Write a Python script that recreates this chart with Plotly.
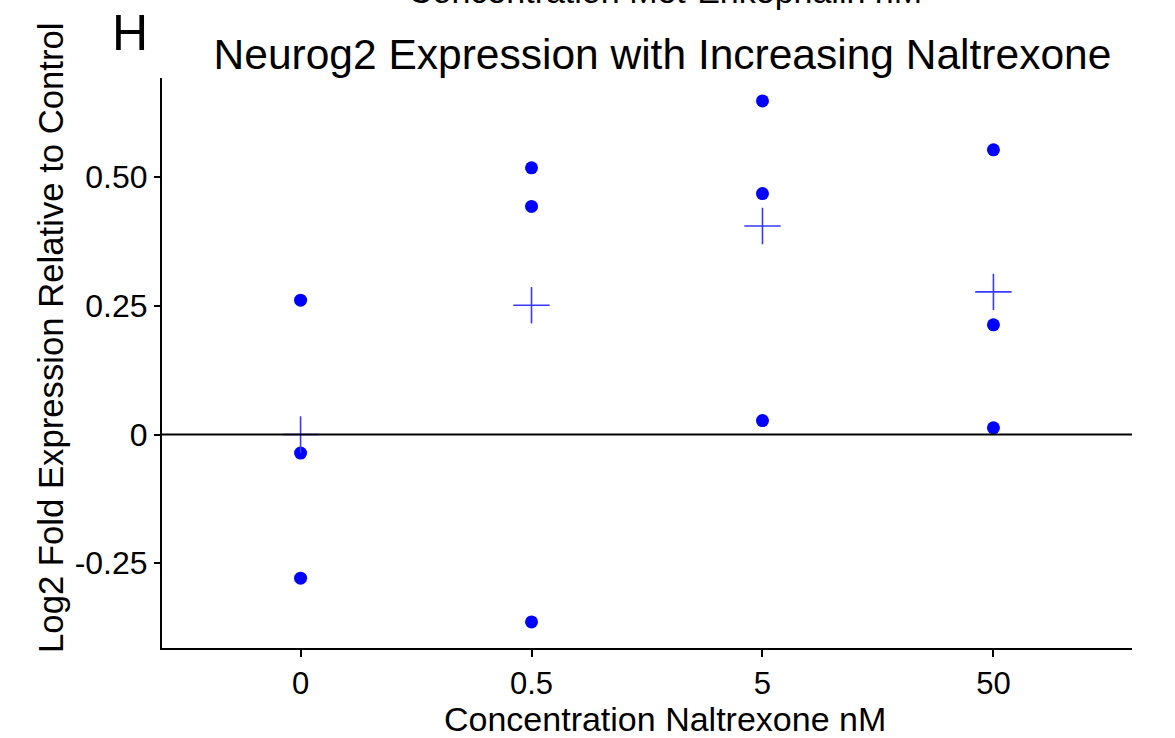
import plotly.graph_objects as go

categories = ["0", "0.5", "5", "50"]
# individual replicates (3 per concentration)
rep_x = ["0", "0", "0", "0.5", "0.5", "0.5", "5", "5", "5", "50", "50", "50"]
rep_y = [0.261, -0.036, -0.279, 0.518, 0.443, -0.364, 0.648, 0.468, 0.027, 0.553, 0.213, 0.013]
# summary crosses
mean_y = [0.0, 0.251, 0.405, 0.277]
ytick_vals = [-0.25, 0, 0.25, 0.5]
ytick_text = ["-0.25", "0", "0.25", "0.50"]

FONT = "Liberation Sans, Arial, sans-serif"

fig = go.Figure()
fig.add_trace(go.Scatter(
    x=rep_x, y=rep_y, mode="markers",
    marker=dict(color="#0000ff", size=13, line=dict(width=0)),
    showlegend=False,
))
fig.add_trace(go.Scatter(
    x=categories, y=mean_y, mode="markers",
    marker=dict(symbol="cross-thin", size=26, color="#3a3aff",
                line=dict(color="#3a3aff", width=1.6)),
    showlegend=False,
))
fig.add_hline(y=0, line=dict(color="black", width=2))

fig.update_layout(
    width=1175, height=738,
    margin=dict(l=162, r=43, t=78, b=90),
    paper_bgcolor="white", plot_bgcolor="white",
    font=dict(family=FONT, color="black"),
    title=dict(text="Neurog2 Expression with Increasing Naltrexone",
               x=0.5638, xanchor="center", y=0.927, yanchor="middle",
               font=dict(size=42.5, family=FONT, color="black")),
    xaxis=dict(type="category", categoryorder="array", categoryarray=categories,
               range=[-0.6, 3.6], showgrid=False, zeroline=False,
               showline=True, linecolor="black", linewidth=2,
               ticks="outside", ticklen=7, tickwidth=1.5, tickcolor="black",
               tickfont=dict(size=31, family=FONT, color="black")),
    yaxis=dict(range=[-0.4147, 0.6925], showgrid=False, zeroline=False,
               showline=True, linecolor="black", linewidth=2,
               ticks="outside", ticklen=6, tickwidth=1.5, tickcolor="black",
               tickvals=ytick_vals, ticktext=ytick_text,
               tickfont=dict(size=32, family=FONT, color="black")),
    annotations=[
        dict(text="Concentration Naltrexone nM",
             xref="paper", yref="paper", x=0.5186, y=-0.1246,
             xanchor="center", yanchor="middle", showarrow=False,
             font=dict(size=34, family=FONT, color="black")),
        dict(text="Log2 Fold Expression Relative to Control", textangle=-90,
             xref="paper", yref="paper", x=-0.1144, y=0.544,
             xanchor="center", yanchor="middle", showarrow=False,
             font=dict(size=34.7, family=FONT, color="black")),
        dict(text="H", xref="paper", yref="paper", x=-0.033, y=1.079,
             xanchor="center", yanchor="middle", showarrow=False,
             font=dict(size=50, family=FONT, color="black")),
        dict(text="Concentration Met-Enkephalin nM", xref="paper", yref="paper",
             x=0.5186, y=1.152, xanchor="center", yanchor="middle", showarrow=False,
             font=dict(size=34, family=FONT, color="black")),
    ],
)

fig.write_html("out.html")
